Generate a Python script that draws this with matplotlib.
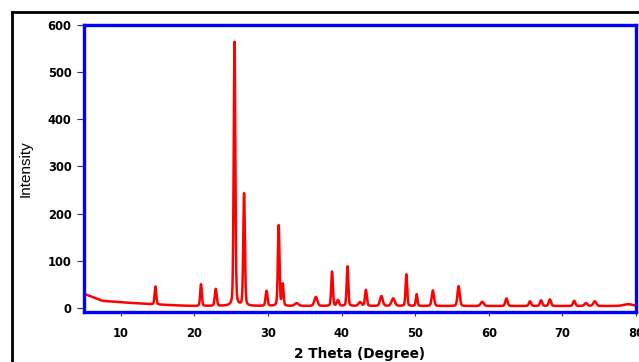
import numpy as np
import matplotlib
matplotlib.use('Agg')
import matplotlib.pyplot as plt
from matplotlib.lines import Line2D

plt.rcParams['font.family'] = ['Liberation Sans', 'DejaVu Sans']

# peak list: position (2 theta), height, half width
peak_pos = [14.7, 20.9, 22.9, 25.45, 26.75, 29.8, 31.45, 32.0, 33.9, 36.5,
            38.7, 39.5, 40.8, 42.5, 43.3, 45.4, 47.0, 48.8, 50.2, 52.4,
            55.9, 59.1, 62.4, 65.6, 67.1, 68.3, 71.6, 73.2, 74.4, 78.9]
peak_height = [38, 46, 36, 560, 238, 32, 171, 46, 6, 19,
               73, 12, 84, 8, 34, 21, 16, 67, 25, 33,
               42, 9, 16, 10, 12, 14, 11, 6, 10, 4]
peak_width = [0.13, 0.13, 0.15, 0.13, 0.13, 0.15, 0.13, 0.13, 0.30, 0.24,
              0.13, 0.18, 0.13, 0.24, 0.15, 0.22, 0.26, 0.13, 0.13, 0.18,
              0.18, 0.24, 0.18, 0.18, 0.18, 0.18, 0.18, 0.24, 0.24, 0.70]

# background read at a few angles
bg_x = [5, 7.5, 10, 14, 18, 20, 80]
bg_y = [30, 15, 12, 8, 5, 4, 4]

two_theta = np.linspace(5, 80, 6000)
intensity = np.interp(two_theta, bg_x, bg_y)
for p, h, w in zip(peak_pos, peak_height, peak_width):
    u = (two_theta - p) / w
    # pseudo-Voigt profile, mostly Gaussian
    intensity = intensity + h * (0.75 * np.exp(-np.log(2) * u ** 2)
                                 + 0.25 / (1 + u ** 2))

fig = plt.figure(figsize=(6.39, 3.62), dpi=100)
ax = fig.add_axes([84 / 639, 1 - 311.7 / 362, (636 - 84) / 639, (311.7 - 25) / 362])

ax.plot(two_theta, intensity, color='#ff0000', lw=1.8)

ax.set_xlim(5, 80)
ax.set_ylim(-8, 600)
ax.set_xticks(np.arange(10, 81, 10))
ax.set_yticks(np.arange(0, 601, 100))

for s in ax.spines.values():
    s.set_color('#0000ff')
    s.set_linewidth(2.4)

ax.tick_params(axis='y', direction='out', length=5, width=0.8, color='#333333', pad=4)
ax.tick_params(axis='x', direction='out', length=3, width=0.8, color='#333333', pad=8)
for lab in ax.get_xticklabels() + ax.get_yticklabels():
    lab.set_fontfamily('DejaVu Sans')
    lab.set_fontweight('bold')
    lab.set_fontsize(8.3)

ax.set_xlabel('2 Theta (Degree)', fontsize=9.8, fontweight='bold',
              family='DejaVu Sans', labelpad=5)
ax.set_ylabel('Intensity', fontsize=11, labelpad=11)

# black outer frame (cropped at right and bottom)
fig.add_artist(Line2D([12 / 639, 1], [1 - 12 / 362, 1 - 12 / 362],
                      color='black', lw=2, transform=fig.transFigure))
fig.add_artist(Line2D([12 / 639, 12 / 639], [1 - 12 / 362, 0],
                      color='black', lw=2, transform=fig.transFigure))

fig.savefig('out.png', dpi=100)
